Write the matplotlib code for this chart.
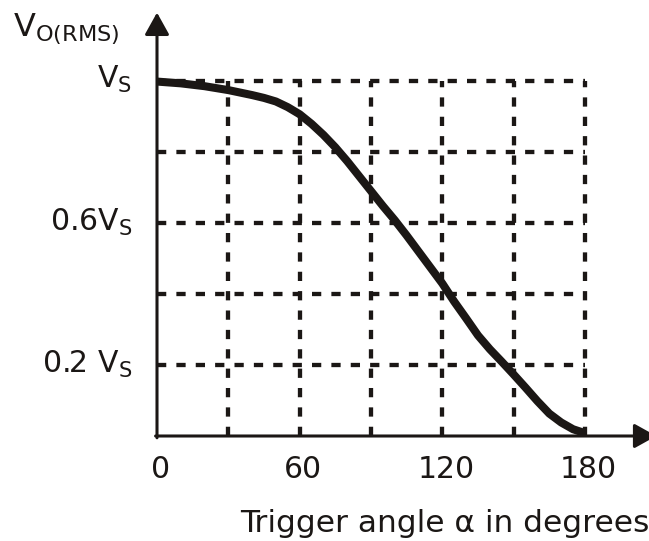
import matplotlib
matplotlib.use("Agg")
import matplotlib.pyplot as plt

# values (trigger angle in degrees, Vo(rms)/Vs)
alpha_deg = [0, 10, 20, 30, 40, 45, 50, 55, 60, 65, 70, 75, 80, 85, 90,
             95, 100, 105, 110, 115, 120, 125, 130, 135, 140, 145, 150,
             155, 160, 165, 170, 175, 180]
vo_rms = [0.997, 0.992, 0.984, 0.973, 0.959, 0.951, 0.941, 0.925, 0.905,
          0.878, 0.847, 0.812, 0.773, 0.731, 0.689, 0.647, 0.607, 0.564,
          0.519, 0.474, 0.429, 0.378, 0.331, 0.283, 0.244, 0.209, 0.173,
          0.136, 0.098, 0.063, 0.038, 0.019, 0.008]

grid_x = [30, 60, 90, 120, 150, 180]
grid_y = [0.2, 0.4, 0.6, 0.8, 1.0]

x_tick_values = [0, 60, 120, 180]
y_tick_values = [1.0, 0.6, 0.2]
y_tick_labels = ["V$_\\mathregular{S}$", "0.6V$_\\mathregular{S}$",
                 "0.2 V$_\\mathregular{S}$"]

x_label = "Trigger angle \u03b1 in degrees"
y_label = "V$_\\mathregular{O(RMS)}$"

INK = "#1b1715"
FONT = 21.5

plt.rcParams["font.family"] = ["DejaVu Sans"]

fig = plt.figure(figsize=(6.49, 5.41), dpi=100)
ax = fig.add_axes([157 / 649, 105 / 541, 428 / 649, 355.5 / 541])
ax.set_xlim(0, 180)
ax.set_ylim(0, 1)
ax.axis("off")

# dashed grid
dash = (0, (2.15, 2.35))
ax.hlines(grid_y, 0, 180, colors=INK, linewidth=3.1,
          linestyles=[dash], clip_on=False)
for gx in grid_x:
    ax.plot([gx, gx], [0, 1], color=INK, linewidth=3.1,
            linestyle=dash, clip_on=False)

# axes with arrow heads
arrow = dict(
    arrowstyle="-|>,head_length=0.9,head_width=0.5",
    lw=2.2,
    color=INK,
    shrinkA=0,
    shrinkB=0,
    mutation_scale=15,
)
ax.annotate("", xy=(210, 0), xytext=(-0.6, 0),
            arrowprops=arrow, annotation_clip=False)
ax.annotate("", xy=(0, 1.191), xytext=(0, -0.005),
            arrowprops=arrow, annotation_clip=False)

# curve
ax.plot(alpha_deg, vo_rms, color=INK, linewidth=5.8,
        solid_joinstyle="round", solid_capstyle="butt", clip_on=False)

# tick labels
for xv in x_tick_values:
    ax.text(xv + 1.5, -0.118, str(xv), ha="center", va="baseline",
            fontsize=FONT, color=INK)

for yv, label in zip(y_tick_values, y_tick_labels):
    ax.text(-10.5, yv - 0.022, label, ha="right", va="baseline",
            fontsize=FONT, color=INK)

ax.text(34.9, -0.269, x_label, ha="left", va="baseline",
        fontsize=22.5, color=INK)
ax.text(-60.6, 1.125, y_label, ha="left", va="baseline",
        fontsize=23, color=INK)

fig.savefig("out.png", dpi=100)
plt.close(fig)
